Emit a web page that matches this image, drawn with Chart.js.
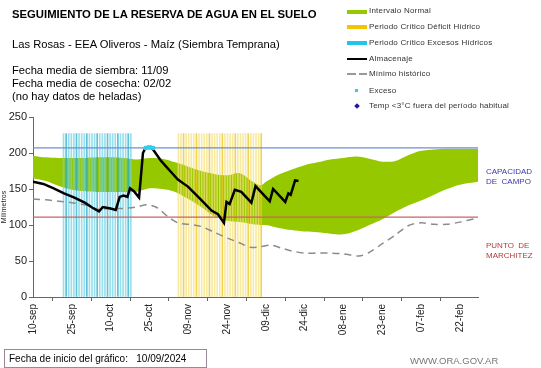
<!DOCTYPE html>
<html>
<head>
<meta charset="utf-8">
<script src="https://cdn.jsdelivr.net/npm/chart.js@4.4.1/dist/chart.umd.min.js"></script>
<style>
  body { margin: 0; width: 541px; height: 368px; position: relative; background: #fff; font-family: "Liberation Sans", Arial, sans-serif; overflow: hidden; }
  #wrap { position: absolute; left: 0; top: 0; width: 541px; height: 368px; }
  .t { position: absolute; white-space: nowrap; color: #000; }
  .title { left: 12px; top: 8px; font-size: 11.3px; font-weight: bold; }
  .info { left: 12px; font-size: 11.2px; }
  .leg { position: absolute; left: 369px; font-size: 8px; color: #333; white-space: nowrap; letter-spacing: 0.2px; }
  .sw { position: absolute; left: 347px; width: 20px; height: 4px; }
  .side { position: absolute; left: 486px; font-size: 8px; line-height: 10px; }
  .box { position: absolute; left: 4px; top: 349px; width: 197px; height: 17px; border: 1px solid #9a8896; font-size: 10px; line-height: 17px; padding-left: 4px; box-sizing: content-box; }
  .web { position: absolute; left: 410px; top: 355px; font-size: 9.5px; color: #777; }
</style>
</head>
<body>
<div id="wrap"><canvas id="chart-reserva" width="541" height="368"></canvas></div>

<div class="t title">SEGUIMIENTO DE LA RESERVA DE AGUA EN EL SUELO</div>
<div class="t info" style="top:38px">Las Rosas - EEA Oliveros - Maíz (Siembra Temprana)</div>
<div class="t info" style="top:64px">Fecha media de siembra: 11/09</div>
<div class="t info" style="top:77px">Fecha media de cosecha: 02/02</div>
<div class="t info" style="top:90px">(no hay datos de heladas)</div>

<div class="sw" style="top:10px;background:#96c800"></div><div class="leg" style="top:6px">Intervalo Normal</div>
<div class="sw" style="top:25px;background:#f5c400"></div><div class="leg" style="top:22px">Periodo Crítico Déficit Hídrico</div>
<div class="sw" style="top:41px;background:#22c4ea"></div><div class="leg" style="top:38px">Periodo Crítico Excesos Hídricos</div>
<div class="sw" style="top:58px;height:2px;background:#000"></div><div class="leg" style="top:54px">Almacenaje</div>
<div class="sw" style="top:73px;height:2px;width:20px;background:linear-gradient(90deg,#999 0 45%,transparent 45% 60%,#999 60% 100%)"></div><div class="leg" style="top:69px">Mínimo histórico</div>
<div style="position:absolute;left:355px;top:89px;width:3px;height:3px;background:#33ccee"></div><div class="leg" style="top:86px">Exceso</div>
<div style="position:absolute;left:355px;top:104px;width:4px;height:4px;background:#1a1aa0;transform:rotate(45deg)"></div><div class="leg" style="top:101px">Temp &lt;3°C fuera del período habitual</div>

<div class="side" style="top:167px;color:#3a3aa8">CAPACIDAD<br>DE&nbsp; CAMPO</div>
<div class="side" style="top:241px;color:#b83a3a">PUNTO&nbsp; DE<br>MARCHITEZ</div>

<div class="box">Fecha de inicio del gráfico:&nbsp;&nbsp; 10/09/2024</div>
<div class="web">WWW.ORA.GOV.AR</div>

<script>
// eje x en dias desde 10/09
const tickDays = [0, 15, 30, 45, 60, 75, 90, 105, 120, 135, 150, 165];
const tickLabels = ["10-sep", "25-sep", "10-oct", "25-oct", "09-nov", "24-nov", "09-dic", "24-dic", "08-ene", "23-ene", "07-feb", "22-feb"];
const lastDay = 172;

// intervalo normal
const normalDays = [0, 5, 10, 15, 20, 25, 30, 35, 40, 45, 50, 55, 60, 65, 70, 75, 80, 85, 88, 90, 95, 100, 105, 110, 115, 120, 125, 130, 135, 140, 145, 150, 155, 160, 165, 172];
const normalUpper = [196, 194, 193, 193, 193, 194, 194, 193, 191, 193, 192, 187, 181, 175, 171, 169, 172, 160, 155, 160, 170, 177, 183, 187, 191, 193, 195, 192, 188, 189, 197, 203, 205, 206, 206, 206];
const normalLower = [165, 161, 154, 149, 147, 146, 146, 146, 146, 151, 150, 146, 136, 125, 112, 106, 104, 101, 100, 100, 96, 93, 91, 90, 88, 87, 92, 100, 108, 118, 127, 134, 142, 150, 156, 160];

// minimo historico
const minDays = [0, 5, 10, 15, 20, 25, 30, 35, 40, 44, 48, 52, 56, 60, 65, 70, 75, 80, 84, 88, 92, 96, 100, 105, 110, 115, 120, 126, 130, 135, 140, 145, 150, 155, 160, 165, 172];
const minHist = [136, 135, 133, 131, 128, 122, 123, 123, 125, 128, 124, 112, 103, 101, 98, 90, 82, 75, 69, 70, 72, 68, 64, 61, 61, 61, 60, 57, 62, 74, 86, 99, 103, 101, 101, 104, 110];

// almacenaje
const almDays = [0, 4, 8, 12, 16, 20, 23, 25.5, 27, 30, 32, 33.5, 35, 36.5, 37.5, 39, 41, 42.5, 43.5, 46, 49.5, 53, 56, 60, 65, 69, 71.5, 73.8, 74.8, 76, 78, 80.5, 84.4, 86, 91.5, 92.8, 97.5, 98.7, 99.6, 101.3, 102.6];
const almacenaje = [160, 157, 151, 144, 138, 131, 124, 119, 125, 123, 121, 139, 141, 139, 151, 147, 138, 200, 207, 207, 189, 175, 163, 153, 135, 120, 115, 103, 132, 129, 149, 146, 131, 154, 133, 150, 132, 144, 142, 162, 161];

// exceso
const excesoDays = [43.5, 44.5, 45.5, 46.5];
const excesoVals = [207, 208, 208, 207];

// periodos criticos
const excesosPeriodo = [12, 13, 14, 15, 16, 17, 18, 19, 20, 21, 22, 23, 24, 25, 26, 27, 28, 29, 30, 31, 32, 33, 34, 35, 36, 37, 38];
const deficitPeriodo = [56, 57, 58, 59, 60, 61, 62, 63, 64, 65, 66, 67, 68, 69, 70, 71, 72, 73, 74, 75, 76, 77, 78, 79, 80, 81, 82, 83, 84, 85, 86, 87, 88];
const periodoTop = 227;

const capacidadCampo = 207;
const puntoMarchitez = 111;

const pts = (xs, ys) => xs.map((x, i) => ({ x: x, y: ys[i] }));

const ctx = document.getElementById("chart-reserva").getContext("2d");
const chart = new Chart(ctx, {
  type: "line",
  data: {
    datasets: [
      {
        label: "Almacenaje",
        data: pts(almDays, almacenaje),
        borderColor: "#000",
        borderWidth: 2.5,
        pointRadius: 0,
        tension: 0,
        order: 0,
      },
      {
        label: "Exceso",
        data: pts(excesoDays, excesoVals),
        showLine: false,
        pointRadius: 2.2,
        pointBorderWidth: 0,
        pointBackgroundColor: "#33ccee",
        order: -1,
      },
      {
        label: "Capacidad de campo",
        data: [{ x: 0, y: capacidadCampo }, { x: lastDay, y: capacidadCampo }],
        borderColor: "#6a8fd8",
        borderWidth: 1.2,
        pointRadius: 0,
        order: 1,
      },
      {
        label: "Punto de marchitez",
        data: [{ x: 0, y: puntoMarchitez }, { x: lastDay, y: puntoMarchitez }],
        borderColor: "#c86464",
        borderWidth: 1.2,
        pointRadius: 0,
        order: 1,
      },
      {
        label: "Mínimo histórico",
        data: pts(minDays, minHist),
        borderColor: "#8c8c8c",
        borderWidth: 1.5,
        borderDash: [7, 5],
        pointRadius: 0,
        tension: 0.3,
        order: 2,
      },
      {
        type: "bar",
        label: "Periodo Crítico Excesos Hídricos",
        data: excesosPeriodo.map((d) => ({ x: d, y: periodoTop })),
        backgroundColor: excesosPeriodo.map((d, i) => (i % 4 === 1 ? "rgba(40,175,200,0.75)" : "rgba(110,210,230,0.7)")),
        barThickness: 1,
        order: 3,
      },
      {
        type: "bar",
        label: "Periodo Crítico Déficit Hídrico",
        data: deficitPeriodo.map((d) => ({ x: d, y: periodoTop })),
        backgroundColor: deficitPeriodo.map((d, i) => (i % 5 === 2 ? "rgba(240,200,40,0.8)" : "rgba(245,225,120,0.7)")),
        barThickness: 1,
        order: 3,
      },
      {
        label: "Intervalo Normal sup",
        data: pts(normalDays, normalUpper),
        borderWidth: 0,
        borderColor: "rgba(0,0,0,0)",
        backgroundColor: "#96c800",
        pointRadius: 0,
        tension: 0.3,
        fill: "+1",
        order: 4,
      },
      {
        label: "Intervalo Normal inf",
        data: pts(normalDays, normalLower),
        borderWidth: 0,
        borderColor: "rgba(0,0,0,0)",
        pointRadius: 0,
        tension: 0.3,
        order: 5,
      },
    ],
  },
  options: {
    responsive: false,
    animation: false,
    layout: { padding: { top: 117, right: 63, left: 0, bottom: 0 } },
    plugins: { legend: { display: false }, tooltip: { enabled: false } },
    scales: {
      x: {
        type: "linear",
        min: 0,
        max: lastDay,
        offset: false,
        afterFit: (s) => { s.height = 71; },
        afterBuildTicks: (s) => { s.ticks = tickDays.map((v) => ({ value: v })); },
        grid: { drawOnChartArea: false, drawTicks: true, tickLength: 4, color: "#666" },
        border: { color: "#666", width: 1 },
        ticks: {
          autoSkip: false,
          minRotation: 90,
          maxRotation: 90,
          padding: 3,
          color: "#222",
          font: { family: "'Liberation Sans', Arial", size: 10 },
          callback: (v) => tickLabels[tickDays.indexOf(v)],
        },
      },
      y: {
        min: 0,
        max: 250,
        afterFit: (s) => { s.width = 33; },
        grid: { drawOnChartArea: false, drawTicks: true, tickLength: 4, color: "#666" },
        border: { color: "#666", width: 1 },
        ticks: {
          stepSize: 50,
          padding: 2,
          color: "#222",
          font: { family: "'Liberation Sans', Arial", size: 11 },
        },
        title: {
          display: true,
          text: "Milímetros",
          padding: 0,
          color: "#222",
          font: { family: "'Liberation Sans', Arial", size: 7 },
        },
      },
    },
  },
});
</script>
</body>
</html>
